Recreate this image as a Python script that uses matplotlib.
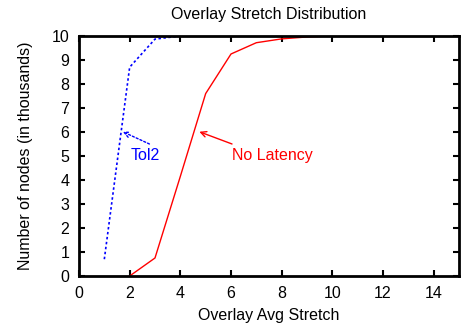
import matplotlib
matplotlib.use("Agg")
import matplotlib.pyplot as plt

plt.rcParams['font.family'] = ['Liberation Sans', 'DejaVu Sans']

# Tol2 (blue dotted)
tol2_x = [1, 2, 3, 4]
tol2_y = [0.7, 8.7, 9.87, 10.0]

# No Latency (red solid)
nolat_x = [2, 3, 4, 5, 6, 7, 8, 9, 10]
nolat_y = [0.0, 0.75, 4.15, 7.6, 9.25, 9.72, 9.88, 9.96, 10.0]

fs = 11.5

fig = plt.figure(figsize=(4.63, 3.26), dpi=100)
ax = fig.add_axes([0.1706, 0.1534, 0.8208, 0.7362])

ax.plot(tol2_x, tol2_y, color='blue', linestyle=(0, (1.5, 1.5)), linewidth=1.2)
ax.plot(nolat_x, nolat_y, color='red', linestyle='-', linewidth=1.0)

ax.annotate('', xy=(1.73, 6.01), xytext=(2.78, 5.5),
            arrowprops=dict(arrowstyle='->', color='blue', linestyle=(0, (1.5, 1.5)),
                            linewidth=1.0, shrinkA=0, shrinkB=0))
ax.text(2.02, 5.0, 'Tol2', color='blue', fontsize=fs, va='center', ha='left')

ax.annotate('', xy=(4.75, 6.01), xytext=(6.04, 5.5),
            arrowprops=dict(arrowstyle='->', color='red', linewidth=1.0,
                            shrinkA=0, shrinkB=0))
ax.text(6.04, 5.0, 'No Latency', color='red', fontsize=fs, va='center', ha='left')

ax.set_xlim(0, 15)
ax.set_ylim(0, 10)
ax.set_xticks(range(0, 15, 2))
ax.set_yticks(range(0, 11))
ax.tick_params(direction='in', length=4, width=1.5, top=True, right=True,
               labelsize=fs, pad=7)
for s in ax.spines.values():
    s.set_linewidth(2)

ax.set_title('Overlay Stretch Distribution', fontsize=fs, pad=12)
ax.set_xlabel('Overlay Avg Stretch', fontsize=fs, labelpad=5)
ax.set_ylabel('Number of nodes (in thousands)', fontsize=fs, labelpad=13)

fig.savefig('out.png', dpi=100)
